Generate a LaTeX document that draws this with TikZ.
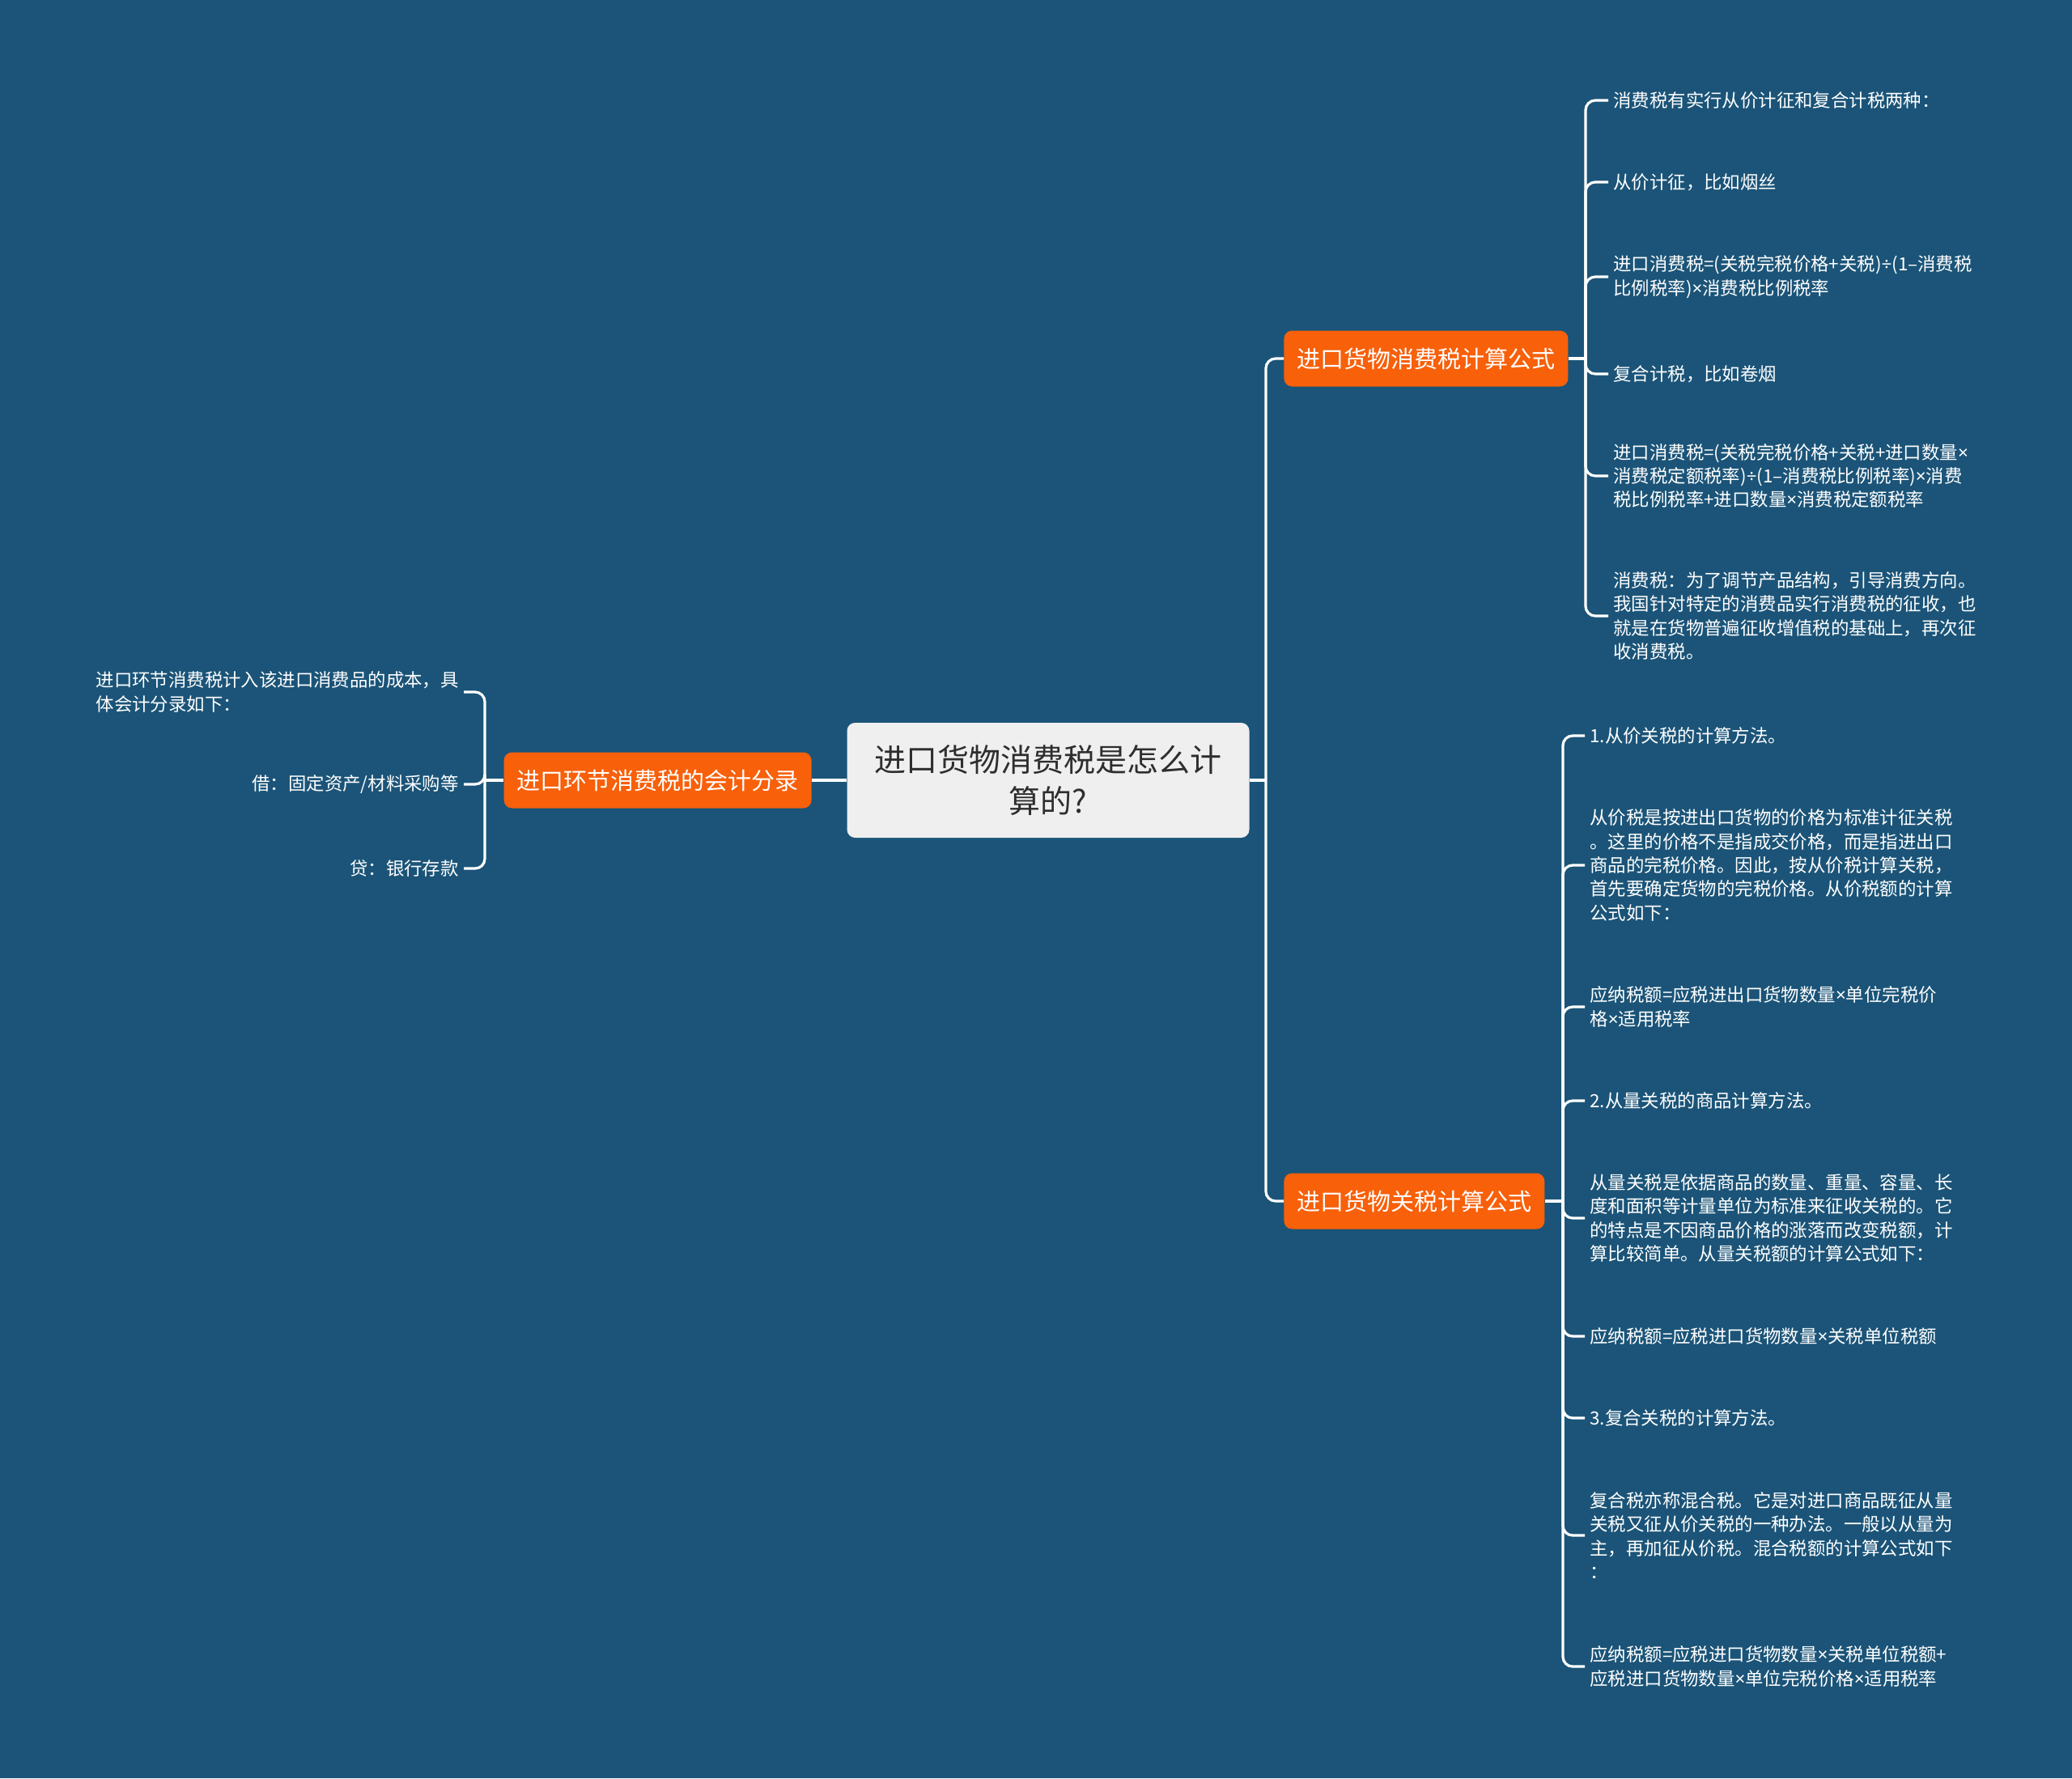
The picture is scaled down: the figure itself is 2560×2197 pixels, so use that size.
\documentclass[tikz,border=0pt]{standalone}
\usepackage{fontspec}
\setmainfont{Noto Sans CJK SC}
\newfontfamily\latinsym{Noto Sans}
\newcommand\tms{{\latinsym ×}}
\newcommand\dvs{{\latinsym ÷}}
\usepackage{xcolor}
\usepackage{tikz}
\usetikzlibrary{positioning}

\definecolor{bgblue}{HTML}{1B5478}
\definecolor{topicor}{HTML}{F8600A}
\definecolor{rootgray}{HTML}{EFEFEF}
\definecolor{roottxt}{HTML}{2E2E2E}

\begin{document}
\begin{tikzpicture}[
    x=0.5pt, y=-0.5pt,
    root/.style={rectangle, fill=rootgray, text=roottxt, rounded corners=5pt,
                 minimum width=248.5pt, minimum height=71pt, align=center,
                 font=\fontsize{19.5pt}{25.3pt}\selectfont},
    topic/.style={rectangle, fill=topicor, text=white, rounded corners=5pt,
                  minimum height=34.5pt, inner xsep=8pt,
                  font=\fontsize{14.5pt}{18pt}\selectfont},
    leaf/.style={text=white, inner sep=3pt, align=left,
                 font=\fontsize{11.2pt}{14.7pt}\selectfont},
    conn/.style={draw=white, line width=1.6pt},
    rconn/.style={conn, rounded corners=6pt},
  ]
    \fill[bgblue] (0,0) rectangle (2560,2197);
    \useasboundingbox (0,0) rectangle (2560,2197);

    % main topics
    \node[root] (root) at (1295,964) {进口货物消费税是怎么计\\算的?};
    \node[topic, anchor=west] (cost) at (1586,443) {进口货物消费税计算公式};
    \node[topic, anchor=west] (duty) at (1586,1484) {进口货物关税计算公式};
    \node[topic, anchor=east] (entry) at (1003,964) {进口环节消费税的会计分录};

    % consumption tax leaves
    \node[leaf, anchor=west] (c1) at (1987,124) {消费税有实行从价计征和复合计税两种：};
    \node[leaf, anchor=west] (c2) at (1987,225) {从价计征，比如烟丝};
    \node[leaf, anchor=west] (c3) at (1987,342)
      {进口消费税=(关税完税价格+关税)\dvs{}(1–消费税\\比例税率)\tms{}消费税比例税率};
    \node[leaf, anchor=west] (c4) at (1987,462) {复合计税，比如卷烟};
    \node[leaf, anchor=west] (c5) at (1987,588)
      {进口消费税=(关税完税价格+关税+进口数量\tms{}\\消费税定额税率)\dvs{}(1–消费税比例税率)\tms{}消费\\税比例税率+进口数量\tms{}消费税定额税率};
    \node[leaf, anchor=west] (c6) at (1987,761)
      {消费税：为了调节产品结构，引导消费方向。\\我国针对特定的消费品实行消费税的征收，也\\就是在货物普遍征收增值税的基础上，再次征\\收消费税。};

    % customs duty leaves
    \node[leaf, anchor=west] (d1) at (1958,909) {1.从价关税的计算方法。};
    \node[leaf, anchor=west] (d2) at (1958,1069)
      {从价税是按进出口货物的价格为标准计征关税\\。这里的价格不是指成交价格，而是指进出口\\商品的完税价格。因此，按从价税计算关税，\\首先要确定货物的完税价格。从价税额的计算\\公式如下：};
    \node[leaf, anchor=west] (d3) at (1958,1244)
      {应纳税额=应税进出口货物数量\tms{}单位完税价\\格\tms{}适用税率};
    \node[leaf, anchor=west] (d4) at (1958,1360) {2.从量关税的商品计算方法。};
    \node[leaf, anchor=west] (d5) at (1958,1505)
      {从量关税是依据商品的数量、重量、容量、长\\度和面积等计量单位为标准来征收关税的。它\\的特点是不因商品价格的涨落而改变税额，计\\算比较简单。从量关税额的计算公式如下：};
    \node[leaf, anchor=west] (d6) at (1958,1651) {应纳税额=应税进口货物数量\tms{}关税单位税额};
    \node[leaf, anchor=west] (d7) at (1958,1752) {3.复合关税的计算方法。};
    \node[leaf, anchor=west] (d8) at (1958,1897)
      {复合税亦称混合税。它是对进口商品既征从量\\关税又征从价关税的一种办法。一般以从量为\\主，再加征从价税。混合税额的计算公式如下\\：};
    \node[leaf, anchor=west] (d9) at (1958,2059)
      {应纳税额=应税进口货物数量\tms{}关税单位税额+\\应税进口货物数量\tms{}单位完税价格\tms{}适用税率};

    % accounting entry leaves
    \node[leaf, anchor=east] (e1) at (573,855)
      {进口环节消费税计入该进口消费品的成本，具\\体会计分录如下：};
    \node[leaf, anchor=east] (e2) at (573,969) {借：固定资产/材料采购等};
    \node[leaf, anchor=east] (e3) at (573,1073) {贷：银行存款};

    % connectors
    \coordinate (jr) at (1564,964);
    \coordinate (jc) at (1959,443);
    \coordinate (jd) at (1931,1484);
    \coordinate (je) at (599,964);
    \draw[conn] (root.east) -- (jr);
    \draw[conn] (root.west) -- (entry.east);
    \foreach \n in {cost, duty} \draw[rconn] (jr) |- (\n.west);
    \draw[conn] (cost.east) -- (jc);
    \foreach \k in {1,...,6} \draw[rconn] (jc) |- (c\k.west);
    \draw[conn] (duty.east) -- (jd);
    \foreach \k in {1,...,9} \draw[rconn] (jd) |- (d\k.west);
    \draw[conn] (entry.west) -- (je);
    \foreach \k in {1,2,3} \draw[rconn] (je) |- (e\k.east);
\end{tikzpicture}
\end{document}
